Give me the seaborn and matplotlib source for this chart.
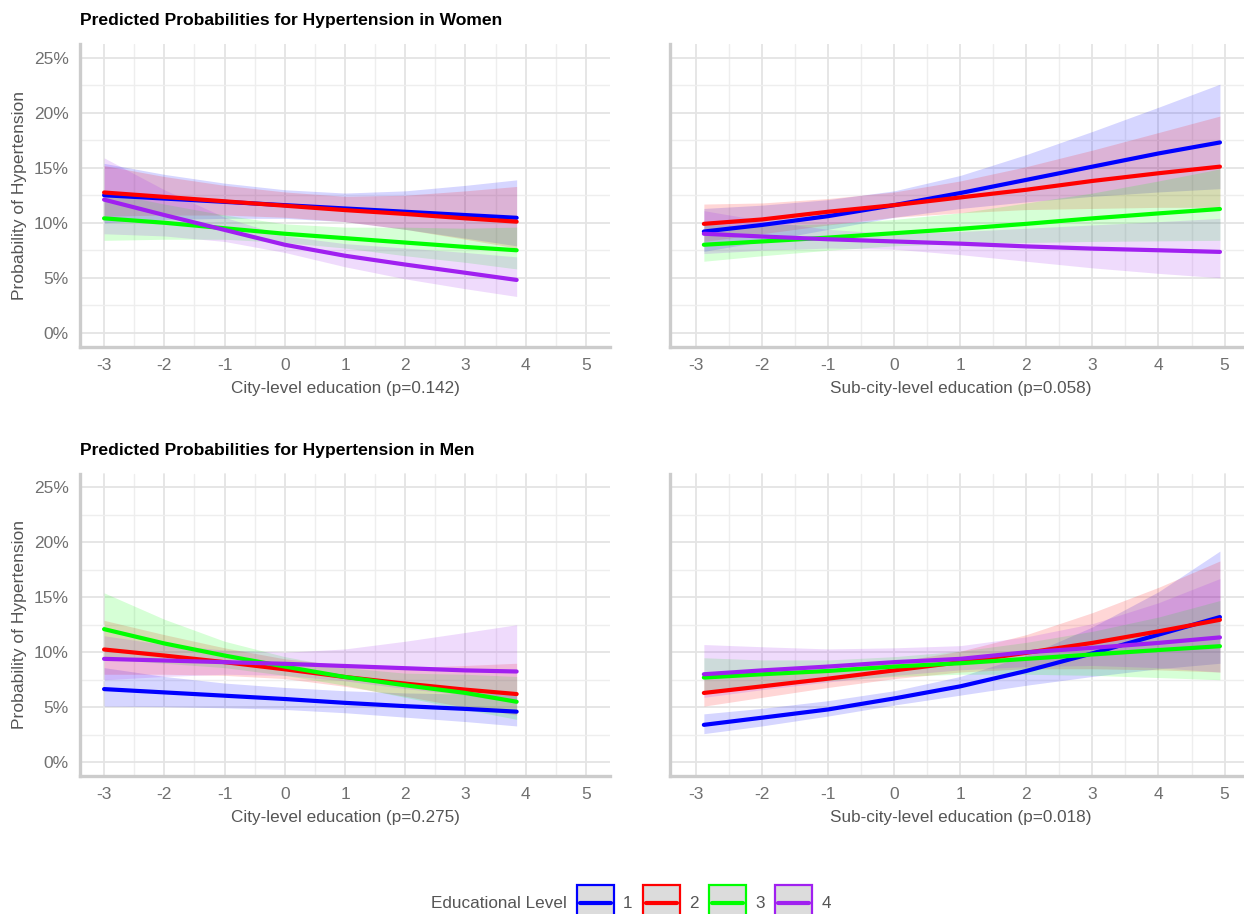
import matplotlib
matplotlib.use("Agg")
import matplotlib.pyplot as plt
from matplotlib.patches import Rectangle
from matplotlib.lines import Line2D
from matplotlib.ticker import MultipleLocator, FuncFormatter
import numpy as np
import pandas as pd
import seaborn as sns

# values, in percent
levels = ["1", "2", "3", "4"]
level_colors = {"1": "#0000FF", "2": "#FF0000", "3": "#00FF00", "4": "#A020F0"}

city_x = [-3, -2, -1, 0, 1, 2, 3, 3.85]
sub_x = [-2.88, -2, -1, 0, 1, 2, 3, 4, 4.93]

# women, city-level
women_city_fit = {"1": [12.5, 12.2, 11.9, 11.6, 11.3, 11.0, 10.7, 10.45],
                  "2": [12.75, 12.35, 11.95, 11.55, 11.15, 10.8, 10.4, 10.1],
                  "3": [10.4, 10.0, 9.5, 9.0, 8.6, 8.2, 7.8, 7.5],
                  "4": [12.1, 10.7, 9.35, 8.0, 7.0, 6.2, 5.45, 4.8]}
women_city_lo = {"1": [10.0, 10.3, 10.4, 10.4, 10.1, 9.4, 8.6, 7.9],
                 "2": [10.6, 10.7, 10.7, 10.5, 10.1, 9.4, 8.5, 7.7],
                 "3": [8.4, 8.5, 8.5, 8.2, 7.7, 7.0, 6.4, 5.8],
                 "4": [9.0, 8.8, 8.3, 7.3, 6.0, 4.9, 4.0, 3.3]}
women_city_hi = {"1": [15.4, 14.4, 13.6, 13.0, 12.7, 12.9, 13.4, 13.9],
                 "2": [15.2, 14.2, 13.4, 12.8, 12.4, 12.5, 12.9, 13.3],
                 "3": [12.8, 11.7, 10.7, 9.9, 9.6, 9.6, 9.5, 9.6],
                 "4": [15.9, 13.0, 10.5, 8.8, 8.1, 7.7, 7.3, 6.9]}

# women, sub-city-level
women_sub_fit = {"1": [9.2, 9.8, 10.6, 11.6, 12.7, 13.9, 15.1, 16.3, 17.3],
                 "2": [9.9, 10.3, 11.0, 11.6, 12.3, 13.0, 13.8, 14.5, 15.1],
                 "3": [8.0, 8.3, 8.65, 9.05, 9.45, 9.9, 10.4, 10.85, 11.25],
                 "4": [9.0, 8.75, 8.5, 8.3, 8.1, 7.85, 7.65, 7.5, 7.35]}
women_sub_lo = {"1": [7.4, 8.3, 9.4, 10.5, 11.3, 11.9, 12.4, 12.8, 13.1],
                "2": [8.3, 9.0, 9.8, 10.5, 10.9, 11.2, 11.3, 11.4, 11.4],
                "3": [6.5, 7.0, 7.5, 7.9, 8.1, 8.2, 8.3, 8.35, 8.4],
                "4": [7.2, 7.5, 7.7, 7.6, 7.1, 6.5, 5.9, 5.4, 5.0]}
women_sub_hi = {"1": [11.3, 11.6, 12.1, 12.9, 14.3, 16.2, 18.3, 20.5, 22.6],
                "2": [11.7, 11.8, 12.2, 12.8, 13.8, 15.1, 16.6, 18.2, 19.7],
                "3": [9.8, 9.8, 9.9, 10.3, 10.9, 11.8, 12.7, 13.8, 14.9],
                "4": [11.1, 10.2, 9.4, 9.0, 9.2, 9.5, 9.8, 10.1, 10.4]}

# men, city-level
men_city_fit = {"1": [6.65, 6.35, 6.05, 5.75, 5.4, 5.1, 4.85, 4.6],
                "2": [10.25, 9.7, 9.1, 8.45, 7.75, 7.15, 6.6, 6.2],
                "3": [12.1, 10.8, 9.7, 8.7, 7.75, 7.0, 6.3, 5.5],
                "4": [9.4, 9.25, 9.1, 8.95, 8.75, 8.55, 8.35, 8.25]}
men_city_lo = {"1": [5.1, 5.05, 4.95, 4.8, 4.5, 4.1, 3.7, 3.3],
               "2": [8.0, 8.0, 7.9, 7.6, 6.9, 6.0, 5.0, 4.3],
               "3": [9.4, 9.0, 8.6, 7.9, 7.0, 5.9, 4.8, 3.9],
               "4": [7.5, 7.8, 8.0, 7.9, 7.4, 6.7, 6.1, 5.4]}
men_city_hi = {"1": [8.6, 7.8, 7.2, 6.8, 6.5, 6.3, 6.2, 6.3],
               "2": [12.9, 11.6, 10.4, 9.4, 8.8, 8.6, 8.8, 9.0],
               "3": [15.4, 13.0, 11.0, 9.6, 8.6, 8.1, 8.0, 7.8],
               "4": [11.5, 10.7, 10.2, 10.0, 10.3, 11.0, 11.8, 12.5]}

# men, sub-city-level
men_sub_fit = {"1": [3.4, 4.05, 4.8, 5.8, 6.9, 8.3, 9.9, 11.6, 13.2],
               "2": [6.3, 6.9, 7.6, 8.35, 9.1, 9.95, 10.85, 11.9, 12.95],
               "3": [7.7, 8.0, 8.3, 8.7, 9.0, 9.4, 9.8, 10.2, 10.55],
               "4": [8.0, 8.35, 8.7, 9.1, 9.4, 10.0, 10.4, 10.85, 11.35]}
men_sub_lo = {"1": [2.6, 3.3, 4.2, 5.2, 6.1, 7.0, 7.8, 8.5, 9.0],
              "2": [5.1, 5.9, 6.8, 7.6, 8.2, 8.5, 8.5, 8.4, 8.2],
              "3": [6.4, 6.9, 7.4, 7.8, 8.0, 8.0, 7.9, 7.7, 7.5],
              "4": [5.9, 6.6, 7.3, 7.9, 8.4, 8.7, 8.8, 8.6, 8.2]}
men_sub_hi = {"1": [4.4, 4.9, 5.6, 6.5, 7.8, 9.7, 12.3, 15.5, 19.2],
              "2": [7.7, 8.0, 8.4, 9.1, 10.1, 11.6, 13.6, 15.9, 18.3],
              "3": [9.5, 9.3, 9.3, 9.6, 10.1, 10.9, 11.9, 13.2, 14.7],
              "4": [10.7, 10.5, 10.3, 10.4, 10.6, 11.4, 12.6, 14.5, 16.7]}

x_labels = ["City-level education (p=0.142)", "Sub-city-level education (p=0.058)",
            "City-level education (p=0.275)", "Sub-city-level education (p=0.018)"]
titles = ["Predicted Probabilities for Hypertension in Women",
          "Predicted Probabilities for Hypertension in Men"]

panels = [(city_x, women_city_fit, women_city_lo, women_city_hi),
          (sub_x, women_sub_fit, women_sub_lo, women_sub_hi),
          (city_x, men_city_fit, men_city_lo, men_city_hi),
          (sub_x, men_sub_fit, men_sub_lo, men_sub_hi)]

sns.set_theme(style="whitegrid")
plt.rcParams["font.family"] = ["Liberation Sans", "DejaVu Sans"]
plt.rcParams["axes.unicode_minus"] = False

W, H = 1244, 914
fig = plt.figure(figsize=(W / 100, H / 100), dpi=100)
fig.patch.set_facecolor("white")

# axes boxes in pixels: left, top, width, height
boxes = [(80, 44, 530, 302.5), (669.5, 44, 581.5, 302.5),
         (80, 473.5, 530, 302.5), (669.5, 473.5, 581.5, 302.5)]

for i, (px, fit, lo, hi) in enumerate(panels):
    l, t, w, h = boxes[i]
    ax = fig.add_axes([l / W, 1 - (t + h) / H, w / W, h / H])
    rows = []
    for lev in levels:
        for xv, f, a, b in zip(px, fit[lev], lo[lev], hi[lev]):
            rows.append({"x": xv, "fit": f, "lo": a, "hi": b, "level": lev})
    df = pd.DataFrame(rows)

    for lev in levels:
        d = df[df["level"] == lev]
        ax.fill_between(d["x"], d["lo"], d["hi"], color=level_colors[lev],
                        alpha=0.16, lw=0, zorder=2)
    sns.lineplot(data=df, x="x", y="fit", hue="level", palette=level_colors,
                 hue_order=levels, lw=3, legend=False, errorbar=None, ax=ax, zorder=3)

    ax.set_xlim(-3.4, 5.4)
    ax.set_ylim(-1.25, 26.25)
    ax.xaxis.set_major_locator(MultipleLocator(1))
    ax.xaxis.set_minor_locator(MultipleLocator(0.5))
    ax.yaxis.set_major_locator(MultipleLocator(5))
    ax.yaxis.set_minor_locator(MultipleLocator(2.5))
    ax.yaxis.set_major_formatter(FuncFormatter(lambda v, p: f"{v:.0f}%"))
    ax.grid(which="major", color="#e4e4e4", lw=1.3, zorder=0)
    ax.grid(which="minor", color="#eeeeee", lw=1.0, zorder=0)
    ax.set_axisbelow(True)
    for s in ["top", "right"]:
        ax.spines[s].set_visible(False)
    for s in ["left", "bottom"]:
        ax.spines[s].set_color("#cccccc")
        ax.spines[s].set_linewidth(2.4)
    ax.tick_params(which="both", length=0, labelsize=12.5, labelcolor="#707070", pad=8)
    ax.set_xlabel(x_labels[i], fontsize=12.3, color="#555555", labelpad=6)
    if i % 2 == 0:
        ax.set_ylabel("Probability of Hypertension", fontsize=12.6, color="#555555", labelpad=5)
    else:
        ax.set_ylabel("")
        ax.tick_params(axis="y", labelleft=False)

fig.text(80 / W, 1 - 20 / H, titles[0], fontsize=12.6, fontweight="bold",
         ha="left", va="center", color="black")
fig.text(80 / W, 1 - 451 / H, titles[1], fontsize=12.6, fontweight="bold",
         ha="left", va="center", color="black")

# legend drawn by hand along the bottom edge
fig.text(567 / W, 1 - 903 / H, "Educational Level", fontsize=12.3, color="#555555",
         ha="right", va="center")
for k, lev in enumerate(levels):
    x0 = 577 + k * 66
    fig.add_artist(Rectangle((x0 / W, 1 - 918 / H), 37 / W, 33 / H,
                             transform=fig.transFigure, facecolor="#dcdcdc",
                             edgecolor=level_colors[lev], lw=1.6))
    fig.add_artist(Line2D([(x0 + 3) / W, (x0 + 34) / W], [1 - 903 / H, 1 - 903 / H],
                          transform=fig.transFigure, color=level_colors[lev], lw=3))
    fig.text((x0 + 51) / W, 1 - 903 / H, lev, fontsize=12.3, color="#555555",
             ha="center", va="center")

fig.savefig("out.png", dpi=100)
